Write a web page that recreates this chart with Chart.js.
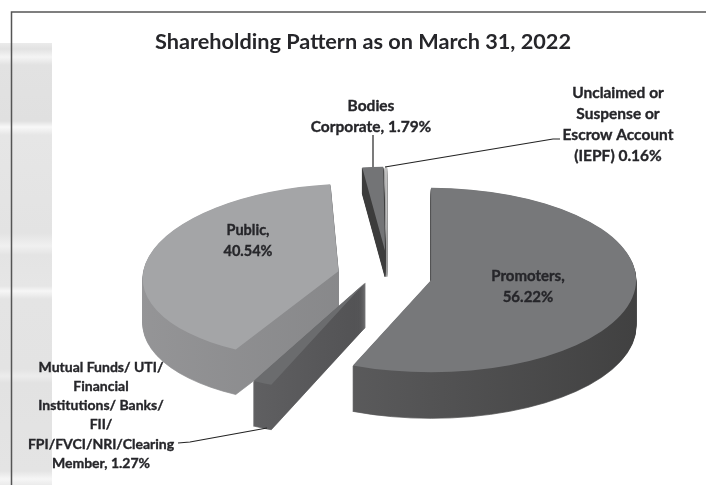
<!DOCTYPE html>
<html>
<head>
<meta charset="utf-8">
<title>Shareholding Pattern</title>
<script src="https://cdn.jsdelivr.net/npm/chart.js@4"></script>
<style>
    html, body { margin: 0; padding: 0; background: #fff; }
    #wrap { position: relative; width: 706px; height: 485px; overflow: hidden; }
    #strip {
        position: absolute; left: 0; top: 43px; width: 52px; height: 442px;
        background: linear-gradient(to bottom,
            #ebebeb 0, #e2e2e2 6px, #f4f4f4 14px, #e2e2e2 22px, #e0e0e0 78px,
            #f8f8f8 84px, #e6e6e6 92px, #e3e3e3 190px, #f0f0f0 203px, #e4e4e4 212px,
            #e6e6e6 243px, #f6f6f6 248px, #e4e4e4 256px, #e3e3e3 326px, #ececec 333px,
            #e2e2e2 340px, #e4e4e4 428px, #f6f6f6 436px, #ebebeb 442px);
    }
    canvas { position: absolute; left: 0; top: 0; }
</style>
</head>
<body>
<div id="wrap">
    <div id="strip"></div>
    <canvas id="myChart" width="706" height="485"></canvas>
</div>
<script>
'use strict';

const titleText = 'Shareholding Pattern as on March 31, 2022';

// clockwise from the top, the order the slices sit in
const categories = [
    'Promoters',
    'Mutual Funds/ UTI/ Financial Institutions/ Banks/ FII/ FPI/FVCI/NRI/Clearing Member',
    'Public',
    'Bodies Corporate',
    'Unclaimed or Suspense or Escrow Account (IEPF)'
];
const shareValues = [56.22, 1.27, 40.54, 1.79, 0.16];

const topColors = ['#77787a', '#6b6c6e', '#a4a5a7', '#737476', '#c4c4c4'];
const sideLeftColors = ['#6a6a6c', '#717173', '#99999b', '#3c3c3c', '#9a9a9a'];
const sideRightColors = ['#3c3c3c', '#333335', '#77787a', '#3c3c3c', '#9a9a9a'];

const sliceExplode = [47, 45, 47, 29, 29];
const sliceExtraRadius = [44, 85, 34, 26, 26];
const sliceLift = [12, 0, 11, 0, 0];
const sliceShiftX = [1, 0, 0, 3, 3];
const sliceShear = [0, 0, -0.18, 0, 0];
const sliceDepth = [46, 45, 45, 26, 26];
const drawOrder = [2, 4, 3, 1, 0];

const pieCenter = { x: 384, y: 264 };
const squash = 0.45;

const labelLines = [
    { lines: ['Promoters,', '56.22%'], x: 528, y: 276, step: 21, size: 15 },
    { lines: ['Public,', '40.54%'], x: 248, y: 230, step: 21, size: 14.5 },
    { lines: ['Bodies', 'Corporate, 1.79%'], x: 371, y: 106, step: 21, size: 15.5 },
    { lines: ['Unclaimed or', 'Suspense or', 'Escrow Account', '(IEPF) 0.16%'], x: 618, y: 93, step: 21, size: 15.5 },
    { lines: ['Mutual Funds/ UTI/', 'Financial', 'Institutions/ Banks/', 'FII/', 'FPI/FVCI/NRI/Clearing', 'Member, 1.27%'], x: 101, y: 367, step: 19.3, size: 14 }
];
const leaderLines = [
    [[373, 135], [373, 167]],
    [[385, 167], [553, 139], [560, 139]],
    [[267, 428], [190, 442], [178, 443]]
];

function plainOptions(color, border) {
    return {
        backgroundColor: color,
        borderColor: color,
        borderWidth: border,
        borderAlign: 'center',
        borderJoinStyle: 'round',
        borderDash: [],
        borderDashOffset: 0,
        offset: 0,
        spacing: 0,
        circular: true,
        borderRadius: 0
    };
}

// moves the context so the library's own arc lands on its exploded, tilted spot
function placeSlice(ctx, el, i, dy) {
    const mid = (el.startAngle + el.endAngle) / 2;
    ctx.save();
    ctx.translate(pieCenter.x + sliceShiftX[i], pieCenter.y + sliceLift[i] + dy);
    ctx.transform(1, 0, sliceShear[i], 1, 0, 0);
    ctx.scale(1, squash);
    ctx.translate(Math.cos(mid) * sliceExplode[i], Math.sin(mid) * sliceExplode[i]);
    ctx.translate(-el.x, -el.y);
}

const pie3d = {
    id: 'pie3d',
    beforeDatasetsDraw(chart) {
        const ctx = chart.ctx;
        const arcs = chart.getDatasetMeta(0).data;

        drawOrder.forEach(i => {
            const el = arcs[i];
            const baseRadius = el.outerRadius;
            const saved = el.options;
            el.outerRadius = baseRadius + sliceExtraRadius[i];

            const grad = ctx.createLinearGradient(el.x - 260, 0, el.x + 260, 0);
            grad.addColorStop(0, sideLeftColors[i]);
            grad.addColorStop(1, sideRightColors[i]);

            el.options = plainOptions(grad, 1);
            for (let d = sliceDepth[i]; d >= 1; d--) {
                placeSlice(ctx, el, i, d);
                el.draw(ctx);
                ctx.restore();
            }

            el.options = plainOptions(topColors[i], 0);
            placeSlice(ctx, el, i, 0);
            el.draw(ctx);
            ctx.restore();

            el.options = saved;
            el.outerRadius = baseRadius;
        });
        return false;
    },
    afterDraw(chart) {
        const ctx = chart.ctx;
        ctx.save();

        // frame round the page
        ctx.strokeStyle = '#555';
        ctx.lineWidth = 1.5;
        ctx.beginPath();
        ctx.moveTo(11.5, 485);
        ctx.lineTo(11.5, 12);
        ctx.lineTo(706, 12);
        ctx.stroke();

        ctx.strokeStyle = '#222';
        ctx.lineWidth = 1.2;
        leaderLines.forEach(pts => {
            ctx.beginPath();
            pts.forEach((p, n) => n ? ctx.lineTo(p[0], p[1]) : ctx.moveTo(p[0], p[1]));
            ctx.stroke();
        });

        ctx.fillStyle = '#26262a';
        ctx.strokeStyle = '#26262a';
        ctx.lineWidth = 0.35;
        ctx.textAlign = 'center';
        ctx.textBaseline = 'middle';
        labelLines.forEach(label => {
            ctx.font = 'bold ' + label.size + 'px Lato';
            label.lines.forEach((line, n) => {
                ctx.fillText(line, label.x, label.y + n * label.step);
                ctx.strokeText(line, label.x, label.y + n * label.step);
            });
        });
        ctx.restore();
    }
};

new Chart(document.getElementById('myChart'), {
    type: 'pie',
    data: {
        labels: categories,
        datasets: [{
            data: shareValues,
            backgroundColor: topColors,
            borderWidth: 0
        }]
    },
    options: {
        responsive: false,
        animation: false,
        radius: 161,
        layout: { padding: { left: 20 } },
        plugins: {
            legend: { display: false },
            tooltip: { enabled: false },
            title: {
                display: true,
                text: titleText,
                color: '#26262a',
                font: { family: 'Lato', size: 21.7, weight: 'bold' },
                padding: { top: 29, bottom: 10 }
            }
        }
    },
    plugins: [pie3d]
});
</script>
</body>
</html>
